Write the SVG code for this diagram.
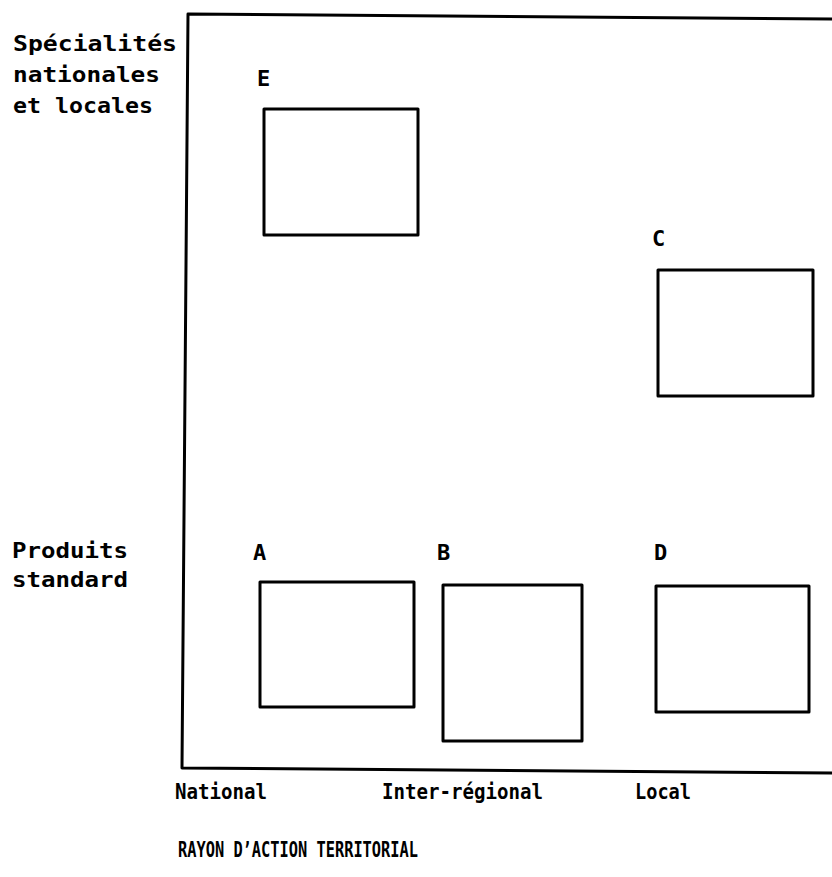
<svg xmlns="http://www.w3.org/2000/svg" width="832" height="877" viewBox="0 0 832 877">
<style>
.t{font-family:"DejaVu Sans Mono","Liberation Mono",monospace;font-weight:bold;font-size:22px;fill:#000}
.box{fill:none;stroke:#000;stroke-width:3;stroke-linejoin:round}
.ax{fill:none;stroke:#000;stroke-width:3;stroke-linejoin:round}
</style>
<rect width="832" height="877" fill="#fff"/>
<g id="frame">
<polyline class="ax" points="832,19 188,14 182,768 832,773"/>
</g>
<g id="y-labels">
<text class="t" x="13" y="51" textLength="164" lengthAdjust="spacingAndGlyphs">Spécialités</text>
<text class="t" x="13" y="82" textLength="147" lengthAdjust="spacingAndGlyphs">nationales</text>
<text class="t" x="13" y="113" textLength="140" lengthAdjust="spacingAndGlyphs">et locales</text>
<text class="t" x="12" y="558" textLength="116" lengthAdjust="spacingAndGlyphs">Produits</text>
<text class="t" x="12" y="587" textLength="116" lengthAdjust="spacingAndGlyphs">standard</text>
</g>
<g id="x-labels">
<text class="t" x="175" y="799" textLength="92" lengthAdjust="spacingAndGlyphs">National</text>
<text class="t" x="382" y="799" textLength="161" lengthAdjust="spacingAndGlyphs">Inter-régional</text>
<text class="t" x="635" y="799" textLength="56" lengthAdjust="spacingAndGlyphs">Local</text>
<text class="t" x="178" y="857" textLength="240" lengthAdjust="spacingAndGlyphs">RAYON D’ACTION TERRITORIAL</text>
</g>
<g id="node-E">
<text class="t" x="257" y="86">E</text>
<rect class="box" x="264" y="109" width="154" height="126"/>
</g>
<g id="node-C">
<text class="t" x="652" y="246">C</text>
<rect class="box" x="658" y="270" width="155" height="126"/>
</g>
<g id="node-A">
<text class="t" x="253" y="560">A</text>
<rect class="box" x="260" y="582" width="154" height="125"/>
</g>
<g id="node-B">
<text class="t" x="437" y="560">B</text>
<rect class="box" x="443" y="585" width="139" height="156"/>
</g>
<g id="node-D">
<text class="t" x="654" y="560">D</text>
<rect class="box" x="656" y="586" width="153" height="126"/>
</g>
<g id="connectors"/>
</svg>
